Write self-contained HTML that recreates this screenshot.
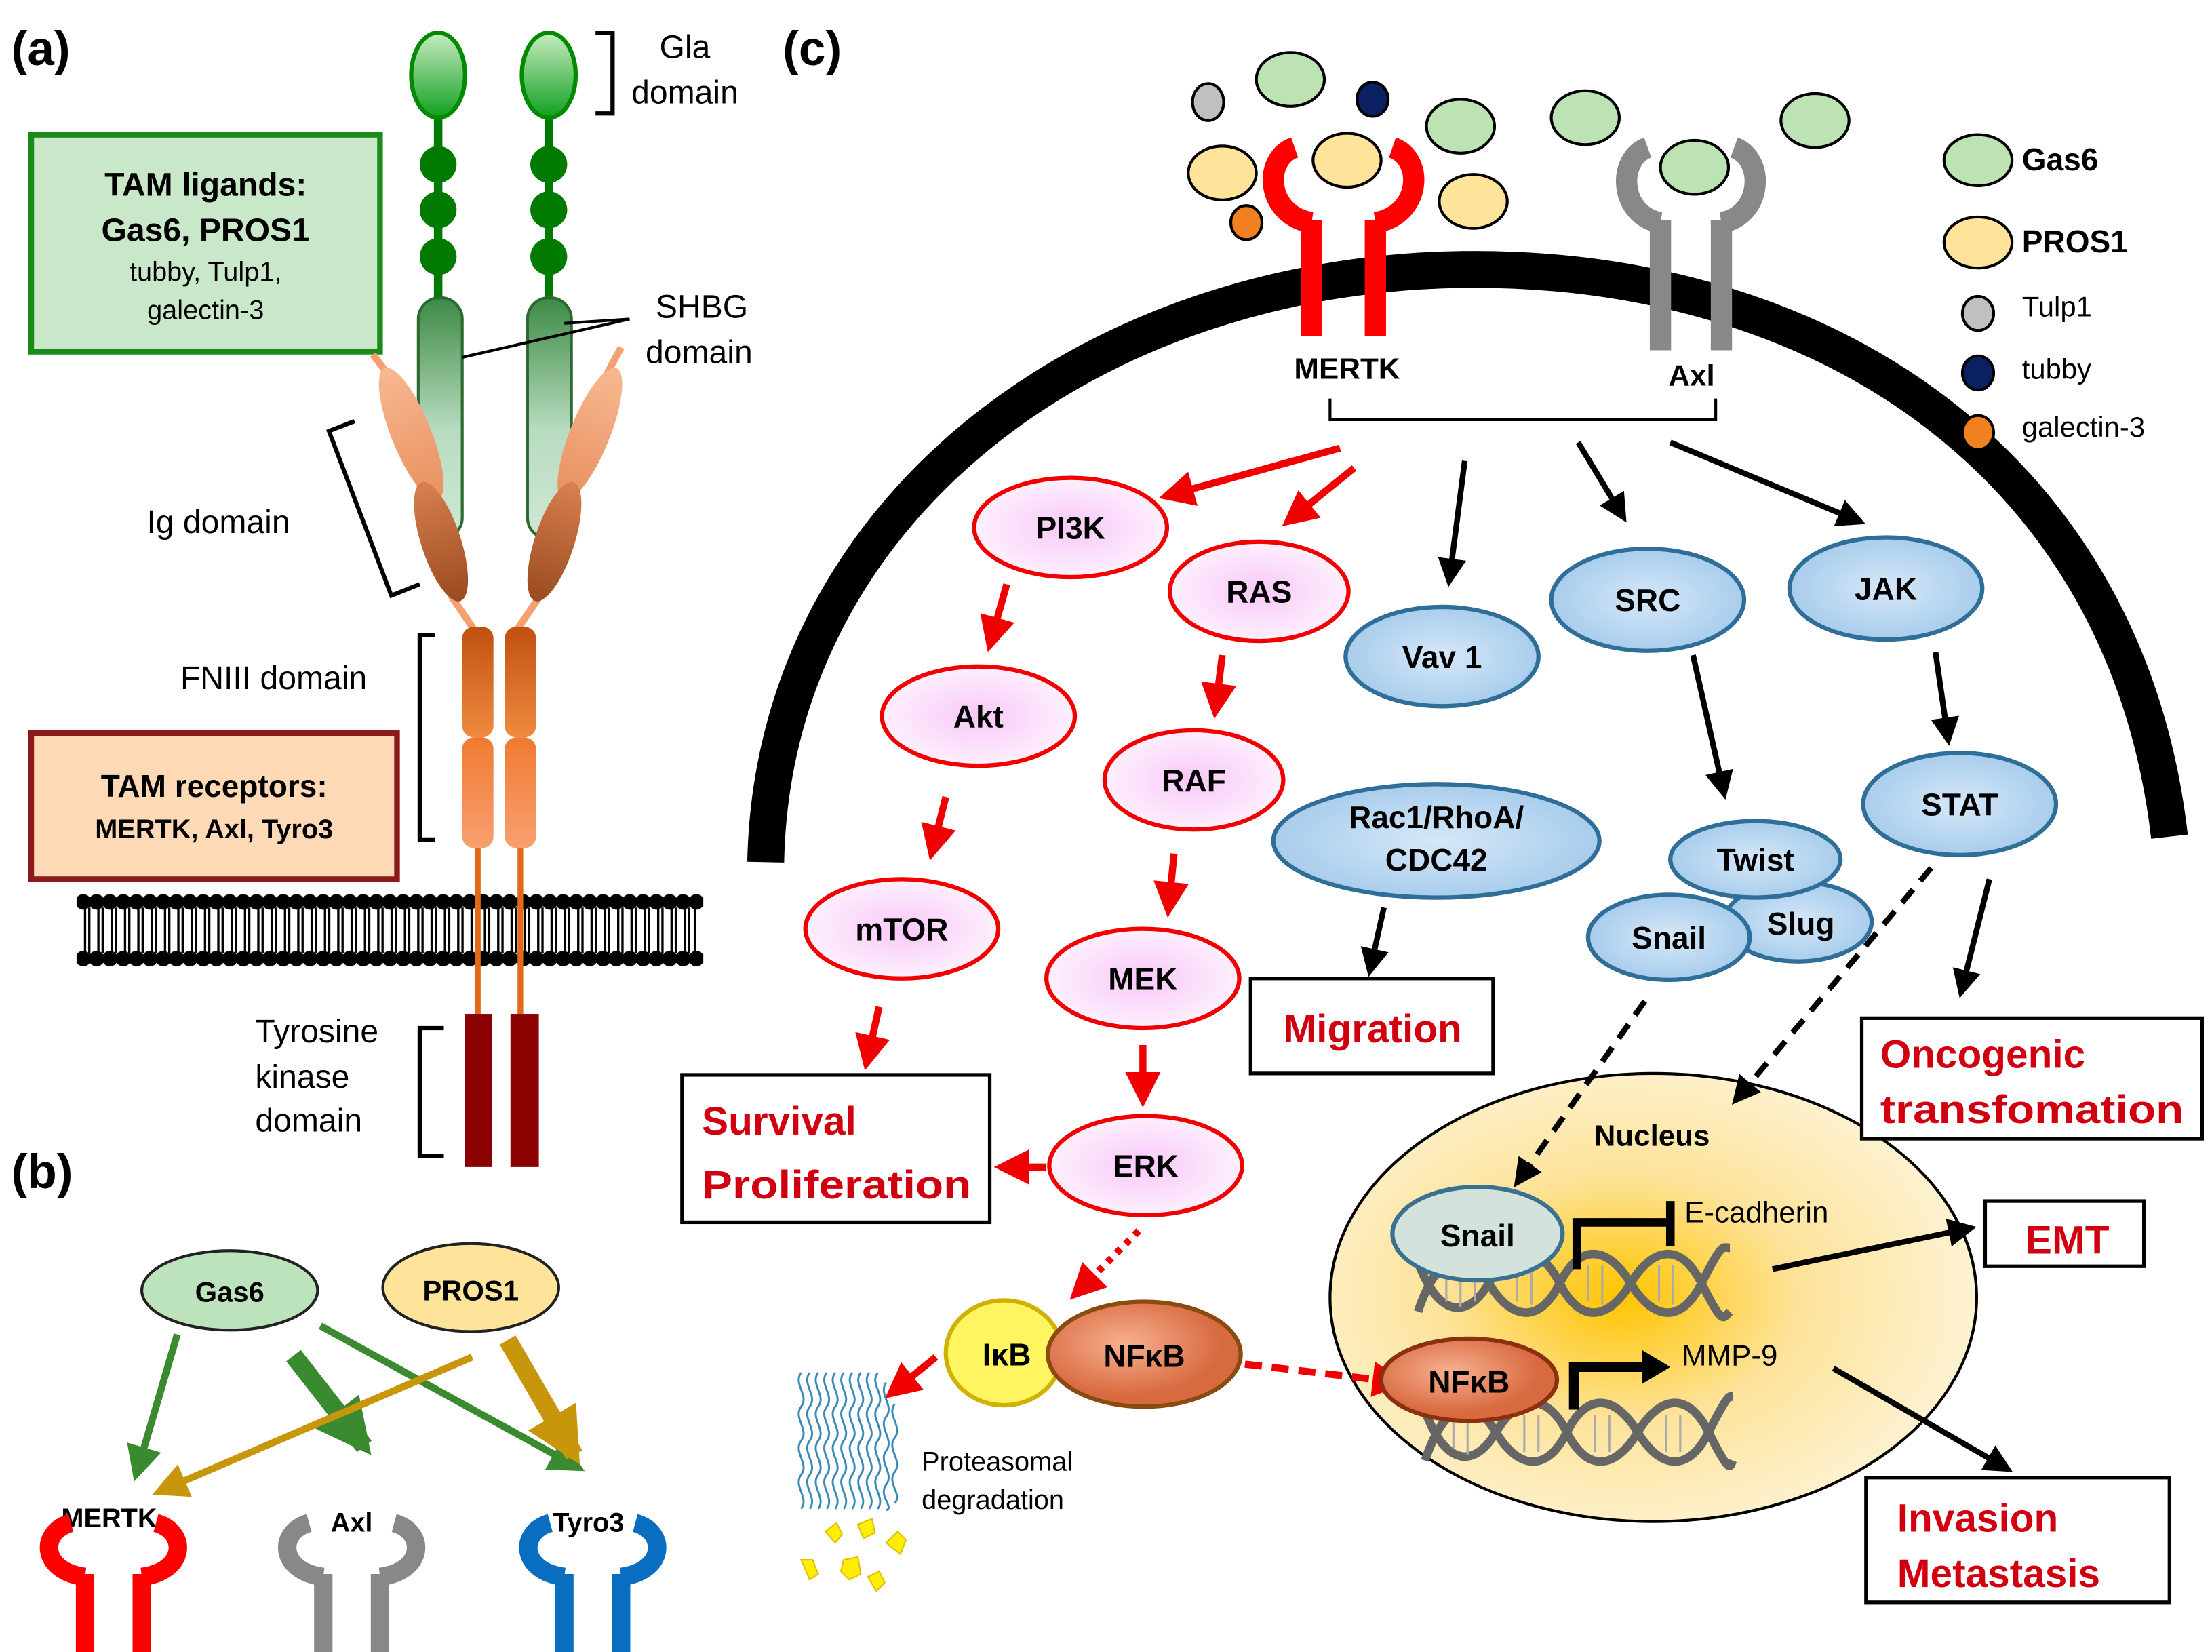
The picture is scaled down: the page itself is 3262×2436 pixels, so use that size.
<!DOCTYPE html>
<html><head><meta charset="utf-8"><style>
html,body{margin:0;padding:0;background:#fff}
svg{display:block}
text{font-family:"Liberation Sans",Arial,sans-serif}
.b{font-weight:bold}
</style></head><body>
<svg width="3262" height="2436" viewBox="0 0 1560 1165" preserveAspectRatio="none" xmlns="http://www.w3.org/2000/svg">
<defs>
<linearGradient id="gla" x1="0" y1="0" x2="0" y2="1"><stop offset="0" stop-color="#c8ecc0"/><stop offset="1" stop-color="#10a020"/></linearGradient>
<linearGradient id="shbg" x1="0" y1="0" x2="0" y2="1"><stop offset="0" stop-color="#3d8a45"/><stop offset="0.55" stop-color="#b8dcc0"/><stop offset="1" stop-color="#d0e8d4"/></linearGradient>
<linearGradient id="fn" x1="0" y1="0" x2="0" y2="1"><stop offset="0" stop-color="#c05010"/><stop offset="1" stop-color="#f08a40"/></linearGradient>
<linearGradient id="fn2" x1="0" y1="0" x2="0" y2="1"><stop offset="0" stop-color="#f07a30"/><stop offset="1" stop-color="#f8a070"/></linearGradient>
<linearGradient id="ig1" x1="0" y1="0" x2="0" y2="1"><stop offset="0" stop-color="#f8b890"/><stop offset="1" stop-color="#e89060"/></linearGradient>
<linearGradient id="ig2" x1="0" y1="0" x2="0" y2="1"><stop offset="0" stop-color="#d88050"/><stop offset="1" stop-color="#9a4a20"/></linearGradient>
<radialGradient id="pink"><stop offset="0" stop-color="#f8c8f8"/><stop offset="1" stop-color="#fdf0fd"/></radialGradient>
<radialGradient id="blue"><stop offset="0" stop-color="#d6e8f8"/><stop offset="1" stop-color="#a8cdec"/></radialGradient>
<radialGradient id="nuc" cx="0.45" cy="0.5" r="0.55"><stop offset="0" stop-color="#ffc400"/><stop offset="0.5" stop-color="#fde39a"/><stop offset="1" stop-color="#fdf2d2"/></radialGradient>
<radialGradient id="nfkb" cx="0.4" cy="0.4"><stop offset="0" stop-color="#f8b090"/><stop offset="1" stop-color="#d86a40"/></radialGradient>
<marker id="ar" viewBox="0 0 10 10" refX="8" refY="5" markerWidth="5" markerHeight="5" orient="auto"><path d="M0,0 L10,5 L0,10 z" fill="#f00000"/></marker>
<marker id="ak" viewBox="0 0 10 10" refX="8" refY="5" markerWidth="5" markerHeight="5" orient="auto"><path d="M0,0 L10,5 L0,10 z" fill="#000"/></marker>
<marker id="ag" viewBox="0 0 10 10" refX="8" refY="5" markerWidth="5" markerHeight="5" orient="auto"><path d="M0,0 L10,5 L0,10 z" fill="#3a8a30"/></marker>
<marker id="ay" viewBox="0 0 10 10" refX="8" refY="5" markerWidth="5" markerHeight="5" orient="auto"><path d="M0,0 L10,5 L0,10 z" fill="#c8960a"/></marker>
<marker id="agT" viewBox="0 0 10 10" refX="8" refY="5" markerWidth="3" markerHeight="3" orient="auto"><path d="M0,0 L10,5 L0,10 z" fill="#3a8a30"/></marker>
<marker id="ayT" viewBox="0 0 10 10" refX="8" refY="5" markerWidth="3" markerHeight="3" orient="auto"><path d="M0,0 L10,5 L0,10 z" fill="#c8960a"/></marker>
<pattern id="lip" x="54" y="630" width="9.4" height="12" patternUnits="userSpaceOnUse">
<circle cx="4.7" cy="6" r="5.5" fill="#000"/>
</pattern>
<pattern id="lip2" x="54" y="670" width="9.4" height="12" patternUnits="userSpaceOnUse">
<circle cx="4.7" cy="6" r="5.5" fill="#000"/>
</pattern>
</defs>

<!-- ===== Panel (a) ===== -->
<text x="8" y="46" font-size="34" class="b">(a)</text>
<g stroke="#007a00">
<line x1="309" y1="80" x2="309" y2="215" stroke-width="6"/>
<line x1="387" y1="80" x2="387" y2="215" stroke-width="6"/>
</g>
<g fill="#007a00">
<circle cx="309" cy="116" r="13"/><circle cx="309" cy="148" r="13"/><circle cx="309" cy="181" r="13"/>
<circle cx="387" cy="116" r="13"/><circle cx="387" cy="148" r="13"/><circle cx="387" cy="181" r="13"/>
</g>
<ellipse cx="309" cy="53" rx="19" ry="30" fill="url(#gla)" stroke="#008a00" stroke-width="3"/>
<ellipse cx="387" cy="53" rx="19" ry="30" fill="url(#gla)" stroke="#008a00" stroke-width="3"/>
<rect x="295" y="210" width="31" height="170" rx="15" fill="url(#shbg)" stroke="#2d6a30" stroke-width="2"/>
<rect x="372" y="210" width="31" height="170" rx="15" fill="url(#shbg)" stroke="#2d6a30" stroke-width="2"/>
<path d="M420 23 H432 V80 H420" fill="none" stroke="#000" stroke-width="3"/>
<text x="483" y="41" font-size="23" text-anchor="middle">Gla</text>
<text x="483" y="73" font-size="23" text-anchor="middle">domain</text>
<text x="495" y="224" font-size="23" text-anchor="middle">SHBG</text>
<text x="493" y="256" font-size="23" text-anchor="middle">domain</text>
<path d="M444 225 L398 228 M444 225 L326 252" stroke="#000" stroke-width="2" fill="none"/>
<rect x="22" y="95" width="246" height="153" fill="#c9e8c9" stroke="#1a8a1a" stroke-width="4"/>
<text x="145" y="138" font-size="23" class="b" text-anchor="middle">TAM ligands:</text>
<text x="145" y="170" font-size="23" class="b" text-anchor="middle">Gas6, PROS1</text>
<text x="145" y="198" font-size="19" text-anchor="middle">tubby, Tulp1,</text>
<text x="145" y="225" font-size="19" text-anchor="middle">galectin-3</text>
<!-- Ig -->
<path d="M263 250 L282 275 M438 245 L422 275 M318 420 L335 445 M381 420 L364 445" stroke="#f4a070" stroke-width="5"/>
<ellipse cx="290" cy="306" rx="14" ry="50" transform="rotate(-22 290 306)" fill="url(#ig1)"/>
<ellipse cx="311" cy="382" rx="14" ry="44" transform="rotate(-18 311 382)" fill="url(#ig2)"/>
<ellipse cx="416" cy="306" rx="14" ry="50" transform="rotate(22 416 306)" fill="url(#ig1)"/>
<ellipse cx="391" cy="382" rx="14" ry="44" transform="rotate(18 391 382)" fill="url(#ig2)"/>
<path d="M250 297 L232 304 L276 420 L296 412" fill="none" stroke="#000" stroke-width="3"/>
<text x="154" y="376" font-size="23" text-anchor="middle">Ig domain</text>
<!-- FNIII -->
<rect x="326" y="442" width="22" height="78" rx="8" fill="url(#fn)"/>
<rect x="326" y="520" width="22" height="78" rx="8" fill="url(#fn2)"/>
<rect x="356" y="442" width="22" height="78" rx="8" fill="url(#fn)"/>
<rect x="356" y="520" width="22" height="78" rx="8" fill="url(#fn2)"/>
<path d="M307 448 H296 V592 H307" fill="none" stroke="#000" stroke-width="3"/>
<text x="193" y="486" font-size="23" text-anchor="middle">FNIII domain</text>
<rect x="22" y="517" width="258" height="103" fill="#fdd9b5" stroke="#8b1a1a" stroke-width="4"/>
<text x="151" y="562" font-size="22" class="b" text-anchor="middle">TAM receptors:</text>
<text x="151" y="591" font-size="19" class="b" text-anchor="middle">MERTK, Axl, Tyro3</text>
<!-- membrane -->
<g stroke="#000" stroke-width="1.6">
<path d="M60 640 V672 M63 640 V672 M69.4 640 V672 M72.4 640 V672 M78.8 640 V672 M81.8 640 V672 M88.2 640 V672 M91.2 640 V672 M97.6 640 V672 M100.6 640 V672 M107 640 V672 M110 640 V672 M116.4 640 V672 M119.4 640 V672 M125.8 640 V672 M128.8 640 V672 M135.2 640 V672 M138.2 640 V672 M144.6 640 V672 M147.6 640 V672 M154 640 V672 M157 640 V672 M163.4 640 V672 M166.4 640 V672 M172.8 640 V672 M175.8 640 V672 M182.2 640 V672 M185.2 640 V672 M191.6 640 V672 M194.6 640 V672 M201 640 V672 M204 640 V672 M210.4 640 V672 M213.4 640 V672 M219.8 640 V672 M222.8 640 V672 M229.2 640 V672 M232.2 640 V672 M238.6 640 V672 M241.6 640 V672 M248 640 V672 M251 640 V672 M257.4 640 V672 M260.4 640 V672 M266.8 640 V672 M269.8 640 V672 M276.2 640 V672 M279.2 640 V672 M285.6 640 V672 M288.6 640 V672 M295 640 V672 M298 640 V672 M304.4 640 V672 M307.4 640 V672 M313.8 640 V672 M316.8 640 V672 M323.2 640 V672 M326.2 640 V672 M332.6 640 V672 M335.6 640 V672 M342 640 V672 M345 640 V672 M351.4 640 V672 M354.4 640 V672 M360.8 640 V672 M363.8 640 V672 M370.2 640 V672 M373.2 640 V672 M379.6 640 V672 M382.6 640 V672 M389 640 V672 M392 640 V672 M398.4 640 V672 M401.4 640 V672 M407.8 640 V672 M410.8 640 V672 M417.2 640 V672 M420.2 640 V672 M426.6 640 V672 M429.6 640 V672 M436 640 V672 M439 640 V672 M445.4 640 V672 M448.4 640 V672 M454.8 640 V672 M457.8 640 V672 M464.2 640 V672 M467.2 640 V672 M473.6 640 V672 M476.6 640 V672 M483 640 V672 M486 640 V672 M490 640 V672"/>
</g>
<rect x="54" y="630" width="442" height="12" fill="url(#lip)"/>
<rect x="54" y="670" width="442" height="12" fill="url(#lip2)"/>
<path d="M337 598 V716 M367 598 V716" stroke="#e06a1a" stroke-width="4"/>
<rect x="328" y="715" width="19" height="108" fill="#8b0000"/>
<rect x="360" y="715" width="20" height="108" fill="#8b0000"/>
<path d="M313 725 H296 V815 H313" fill="none" stroke="#000" stroke-width="3"/>
<text x="180" y="735" font-size="23">Tyrosine</text>
<text x="180" y="767" font-size="23">kinase</text>
<text x="180" y="798" font-size="23">domain</text>

<!-- ===== Panel (b) ===== -->
<text x="8" y="838" font-size="34" class="b">(b)</text>
<ellipse cx="162" cy="910" rx="62" ry="28" fill="#bde3bd" stroke="#222" stroke-width="2"/>
<text x="162" y="918" font-size="20" class="b" text-anchor="middle">Gas6</text>
<ellipse cx="332" cy="908" rx="62" ry="31" fill="#fde49a" stroke="#222" stroke-width="2"/>
<text x="332" y="917" font-size="20" class="b" text-anchor="middle">PROS1</text>
<line x1="125" y1="941" x2="96" y2="1040" stroke="#3a8a30" stroke-width="5" marker-end="url(#ag)"/>
<line x1="207" y1="956" x2="257" y2="1020" stroke="#3a8a30" stroke-width="13" marker-end="url(#agT)"/>
<line x1="226" y1="935" x2="408" y2="1035" stroke="#3a8a30" stroke-width="5" marker-end="url(#ag)"/>
<line x1="333" y1="957" x2="112" y2="1052" stroke="#c8960a" stroke-width="5" marker-end="url(#ay)"/>
<line x1="358" y1="945" x2="405" y2="1026" stroke="#c8960a" stroke-width="13" marker-end="url(#ayT)"/>
<text x="77" y="1077" font-size="19" class="b" text-anchor="middle">MERTK</text>
<text x="248" y="1080" font-size="19" class="b" text-anchor="middle">Axl</text>
<text x="415" y="1080" font-size="19" class="b" text-anchor="middle">Tyro3</text>
<g fill="none" stroke-width="13">
<g stroke="#ff0000" transform="translate(80,1110)"><path d="M-20 0 V55 M20 0 V55"/><path d="M-20 2 C-52 -2 -52 -30 -30 -36 M20 2 C52 -2 52 -30 30 -36"/></g>
<g stroke="#888" transform="translate(248,1110)"><path d="M-20 0 V55 M20 0 V55"/><path d="M-20 2 C-52 -2 -52 -30 -30 -36 M20 2 C52 -2 52 -30 30 -36"/></g>
<g stroke="#0a6ec0" transform="translate(418,1110)"><path d="M-20 0 V55 M20 0 V55"/><path d="M-20 2 C-52 -2 -52 -30 -30 -36 M20 2 C52 -2 52 -30 30 -36"/></g>
</g>

<!-- ===== Panel (c) ===== -->
<text x="552" y="46" font-size="34" class="b">(c)</text>
<path d="M540 608 C545 360 770 190 1040 190 C1290 190 1500 330 1530 590" fill="none" stroke="#000" stroke-width="26"/>
<!-- nucleus background -->
<ellipse cx="1166" cy="915" rx="228" ry="158" fill="url(#nuc)" stroke="#000" stroke-width="2"/>
<!-- ligands -->
<g stroke="#000" stroke-width="2">
<ellipse cx="852" cy="72" rx="11" ry="13" fill="#c0c0c0"/>
<ellipse cx="910" cy="56" rx="24" ry="19" fill="#bde3b5"/>
<ellipse cx="968" cy="70" rx="11" ry="12" fill="#0a2060"/>
<ellipse cx="1030" cy="89" rx="24" ry="19" fill="#bde3b5"/>
<ellipse cx="1118" cy="83" rx="24" ry="19" fill="#bde3b5"/>
<ellipse cx="1280" cy="85" rx="24" ry="19" fill="#bde3b5"/>
<ellipse cx="862" cy="122" rx="24" ry="19" fill="#fde49a"/>
<ellipse cx="950" cy="113" rx="24" ry="19" fill="#fde49a"/>
<ellipse cx="1039" cy="142" rx="24" ry="19" fill="#fde49a"/>
<ellipse cx="879" cy="157" rx="11" ry="12" fill="#f08020"/>
<ellipse cx="1195" cy="118" rx="24" ry="19" fill="#bde3b5"/>
</g>
<g fill="none" stroke-width="15">
<g stroke="#ff0000"><path d="M925 237 V155 M970 237 V155"/><path d="M925 157 C893 152 890 112 913 104 M970 157 C1002 152 1005 112 982 104"/></g>
<g stroke="#888"><path d="M1171 247 V155 M1214 247 V155"/><path d="M1171 157 C1142 152 1140 112 1162 104 M1214 157 C1243 152 1245 112 1223 104"/></g>
</g>
<text x="950" y="267" font-size="21" class="b" text-anchor="middle">MERTK</text>
<text x="1193" y="272" font-size="21" class="b" text-anchor="middle">Axl</text>
<path d="M938 281 V296 H1210 V281" fill="none" stroke="#000" stroke-width="2"/>
<!-- legend -->
<g stroke="#000" stroke-width="2">
<ellipse cx="1395" cy="113" rx="24" ry="18" fill="#bde3b5"/>
<ellipse cx="1395" cy="171" rx="24" ry="18" fill="#fde49a"/>
<ellipse cx="1395" cy="221" rx="11" ry="12" fill="#c0c0c0"/>
<ellipse cx="1395" cy="263" rx="11" ry="12" fill="#0a2060"/>
<ellipse cx="1395" cy="305" rx="11" ry="12" fill="#f08020"/>
</g>
<text x="1426" y="120" font-size="22" class="b">Gas6</text>
<text x="1426" y="178" font-size="22" class="b">PROS1</text>
<text x="1426" y="223" font-size="20">Tulp1</text>
<text x="1426" y="267" font-size="20">tubby</text>
<text x="1426" y="308" font-size="20">galectin-3</text>

<!-- red arrows -->
<g stroke="#f00000" stroke-width="5" fill="none" marker-end="url(#ar)">
<line x1="945" y1="316" x2="822" y2="350"/>
<line x1="955" y1="330" x2="908" y2="368"/>
<line x1="710" y1="412" x2="698" y2="455"/>
<line x1="862" y1="462" x2="857" y2="502"/>
<line x1="667" y1="562" x2="657" y2="602"/>
<line x1="828" y1="602" x2="824" y2="642"/>
<line x1="620" y1="710" x2="611" y2="750"/>
<line x1="806" y1="737" x2="806" y2="776"/>
<line x1="738" y1="823" x2="706" y2="823"/>
<line x1="660" y1="957" x2="628" y2="983"/>
</g>
<line x1="803" y1="868" x2="758" y2="913" stroke="#f00000" stroke-width="5" stroke-dasharray="4 5" marker-end="url(#ar)"/>
<line x1="878" y1="962" x2="988" y2="975" stroke="#f00000" stroke-width="5" stroke-dasharray="12 7" marker-end="url(#ar)"/>
<!-- black arrows -->
<g stroke="#000" stroke-width="4" fill="none" marker-end="url(#ak)">
<line x1="1033" y1="325" x2="1022" y2="410"/>
<line x1="1113" y1="312" x2="1145" y2="365"/>
<line x1="1178" y1="312" x2="1312" y2="368"/>
<line x1="1194" y1="462" x2="1216" y2="560"/>
<line x1="1365" y1="460" x2="1374" y2="522"/>
<line x1="976" y1="640" x2="966" y2="685"/>
<line x1="1403" y1="620" x2="1383" y2="700"/>
<line x1="1250" y1="895" x2="1390" y2="866"/>
<line x1="1293" y1="965" x2="1416" y2="1036"/>
</g>
<g stroke="#000" stroke-width="4" fill="none" stroke-dasharray="12 8" marker-end="url(#ak)">
<line x1="1160" y1="706" x2="1070" y2="834"/>
<line x1="1362" y1="612" x2="1224" y2="776"/>
</g>

<!-- red nodes -->
<g stroke="#f00000" stroke-width="3" fill="url(#pink)">
<ellipse cx="755" cy="372" rx="68" ry="35"/>
<ellipse cx="888" cy="417" rx="63" ry="35"/>
<ellipse cx="690" cy="505" rx="68" ry="35"/>
<ellipse cx="842" cy="550" rx="63" ry="35"/>
<ellipse cx="636" cy="655" rx="68" ry="35"/>
<ellipse cx="806" cy="690" rx="68" ry="35"/>
<ellipse cx="808" cy="822" rx="68" ry="35"/>
</g>
<g font-size="22" class="b" text-anchor="middle">
<text x="755" y="380">PI3K</text><text x="888" y="425">RAS</text><text x="690" y="513">Akt</text>
<text x="842" y="558">RAF</text><text x="636" y="663">mTOR</text><text x="806" y="698">MEK</text><text x="808" y="830">ERK</text>
</g>
<!-- blue nodes -->
<g stroke="#2e6e98" stroke-width="3" fill="url(#blue)">
<ellipse cx="1017" cy="463" rx="68" ry="35"/>
<ellipse cx="1162" cy="423" rx="68" ry="36"/>
<ellipse cx="1330" cy="415" rx="68" ry="36"/>
<ellipse cx="1013" cy="593" rx="115" ry="40"/>
<ellipse cx="1382" cy="567" rx="68" ry="36"/>
<ellipse cx="1268" cy="650" rx="52" ry="28"/>
<ellipse cx="1238" cy="606" rx="60" ry="27"/>
<ellipse cx="1177" cy="661" rx="57" ry="30"/>
</g>
<g font-size="22" class="b" text-anchor="middle">
<text x="1017" y="471">Vav 1</text><text x="1162" y="431">SRC</text><text x="1330" y="423">JAK</text>
<text x="1013" y="584">Rac1/RhoA/</text><text x="1013" y="614">CDC42</text>
<text x="1382" y="575">STAT</text><text x="1238" y="614">Twist</text><text x="1270" y="659">Slug</text><text x="1177" y="669">Snail</text>
</g>

<!-- outcome boxes -->
<g fill="#fff" stroke="#000" stroke-width="2.5">
<rect x="882" y="690" width="171" height="67"/>
<rect x="481" y="758" width="217" height="104"/>
<rect x="1313" y="718" width="240" height="85"/>
<rect x="1400" y="847" width="112" height="46"/>
<rect x="1316" y="1042" width="214" height="88"/>
</g>
<g fill="#d00010" class="b" font-size="28">
<text x="968" y="735" text-anchor="middle">Migration</text>
<text x="495" y="800">Survival</text>
<text x="495" y="845" textLength="190" lengthAdjust="spacingAndGlyphs">Proliferation</text>
<text x="1326" y="753">Oncogenic</text>
<text x="1326" y="792" textLength="214" lengthAdjust="spacingAndGlyphs">transfomation</text>
<text x="1458" y="884" text-anchor="middle">EMT</text>
<text x="1338" y="1080">Invasion</text>
<text x="1338" y="1119">Metastasis</text>
</g>

<!-- nucleus contents -->
<text x="1165" y="808" font-size="21" class="b" text-anchor="middle">Nucleus</text>
<g fill="none" stroke="#666" stroke-width="6">
<path d="M1000 925 C1015 880 1035 880 1050 905 S1085 935 1100 905 S1135 880 1150 905 S1185 935 1200 905 S1215 880 1220 880"/>
<path d="M1000 890 C1015 930 1035 930 1050 905 S1085 875 1100 905 S1135 930 1150 905 S1185 875 1200 905 S1215 930 1220 925"/>
<path d="M1005 1030 C1020 985 1040 985 1055 1010 S1090 1040 1105 1010 S1140 985 1155 1010 S1190 1040 1205 1010 S1220 985 1222 985"/>
<path d="M1005 995 C1020 1035 1040 1035 1055 1010 S1090 980 1105 1010 S1140 1035 1155 1010 S1190 980 1205 1010 S1220 1035 1222 1030"/>
</g>
<g stroke="#aaa" stroke-width="1.5">
<path d="M1020 895 V918 M1030 890 V922 M1040 892 V918 M1070 895 V918 M1080 892 V920 M1120 892 V918 M1130 892 V920 M1170 892 V918 M1180 892 V920 M1025 1000 V1022 M1035 996 V1026 M1075 998 V1024 M1085 998 V1024 M1125 998 V1024 M1135 998 V1024 M1175 998 V1024 M1185 998 V1024"/>
</g>
<ellipse cx="1042" cy="870" rx="60" ry="33" fill="#d4e2dc" stroke="#3a7090" stroke-width="3"/>
<text x="1042" y="879" font-size="22" class="b" text-anchor="middle">Snail</text>
<path d="M1112 895 V862 H1178 M1178 847 V879" fill="none" stroke="#000" stroke-width="6"/>
<text x="1188" y="862" font-size="21">E-cadherin</text>
<ellipse cx="1036" cy="973" rx="62" ry="29" fill="url(#nfkb)" stroke="#8a3010" stroke-width="3"/>
<text x="1036" y="982" font-size="22" class="b" text-anchor="middle">NFκB</text>
<path d="M1110 994 V964 H1160" fill="none" stroke="#000" stroke-width="7"/>
<path d="M1158 952 L1178 964 L1158 976 z" fill="#000"/>
<text x="1186" y="963" font-size="21">MMP-9</text>

<!-- IkB NFkB -->
<ellipse cx="708" cy="954" rx="41" ry="37" fill="#fff560" stroke="#d0b000" stroke-width="3"/>
<ellipse cx="807" cy="955" rx="68" ry="37" fill="url(#nfkb)" stroke="#8a4a10" stroke-width="3"/>
<text x="710" y="963" font-size="22" class="b" text-anchor="middle">IκB</text>
<text x="807" y="964" font-size="22" class="b" text-anchor="middle">NFκB</text>
<!-- proteasome -->
<g fill="none" stroke="#3a8ab8" stroke-width="1.4">
<path d="M565 968 c-6 8 6 16 0 24 s6 16 0 24 s6 16 0 24 s6 16 0 24"/>
<path d="M571 968 c-6 8 6 16 0 24 s6 16 0 24 s6 16 0 24 s6 16 0 24"/>
<path d="M577 968 c-6 8 6 16 0 24 s6 16 0 24 s6 16 0 24 s6 16 0 24"/>
<path d="M583 968 c-6 8 6 16 0 24 s6 16 0 24 s6 16 0 24 s6 16 0 24"/>
<path d="M589 968 c-6 8 6 16 0 24 s6 16 0 24 s6 16 0 24 s6 16 0 24"/>
<path d="M595 968 c-6 8 6 16 0 24 s6 16 0 24 s6 16 0 24 s6 16 0 24"/>
<path d="M601 968 c-6 8 6 16 0 24 s6 16 0 24 s6 16 0 24 s6 16 0 24"/>
<path d="M607 968 c-6 8 6 16 0 24 s6 16 0 24 s6 16 0 24 s6 16 0 24"/>
<path d="M613 968 c-6 8 6 16 0 24 s6 16 0 24 s6 16 0 24 s6 16 0 24"/>
<path d="M619 968 c-6 8 6 16 0 24 s6 16 0 24 s6 16 0 24 s6 16 0 24"/>
<path d="M625 975 c-6 8 6 16 0 24 s6 16 0 24 s6 16 0 24 s6 16 0 18"/>
<path d="M631 990 c-6 8 6 16 0 24 s6 16 0 24 s6 16 0 22"/>
</g>
<text x="650" y="1037" font-size="19">Proteasomal</text>
<text x="650" y="1064" font-size="19">degradation</text>
<g fill="#ffee00" stroke="#e0c000" stroke-width="1">
<path d="M582 1080 l8 -6 l4 8 l-5 6 z"/><path d="M605 1075 l10 -4 l2 10 l-8 4 z"/><path d="M625 1088 l8 -8 l6 6 l-4 10 z"/>
<path d="M565 1100 l8 0 l4 10 l-6 4 z"/><path d="M595 1100 l10 -2 l2 12 l-8 4 l-6 -6 z"/><path d="M612 1112 l8 -4 l4 8 l-6 6 z"/>
</g>
</svg>
</body></html>
